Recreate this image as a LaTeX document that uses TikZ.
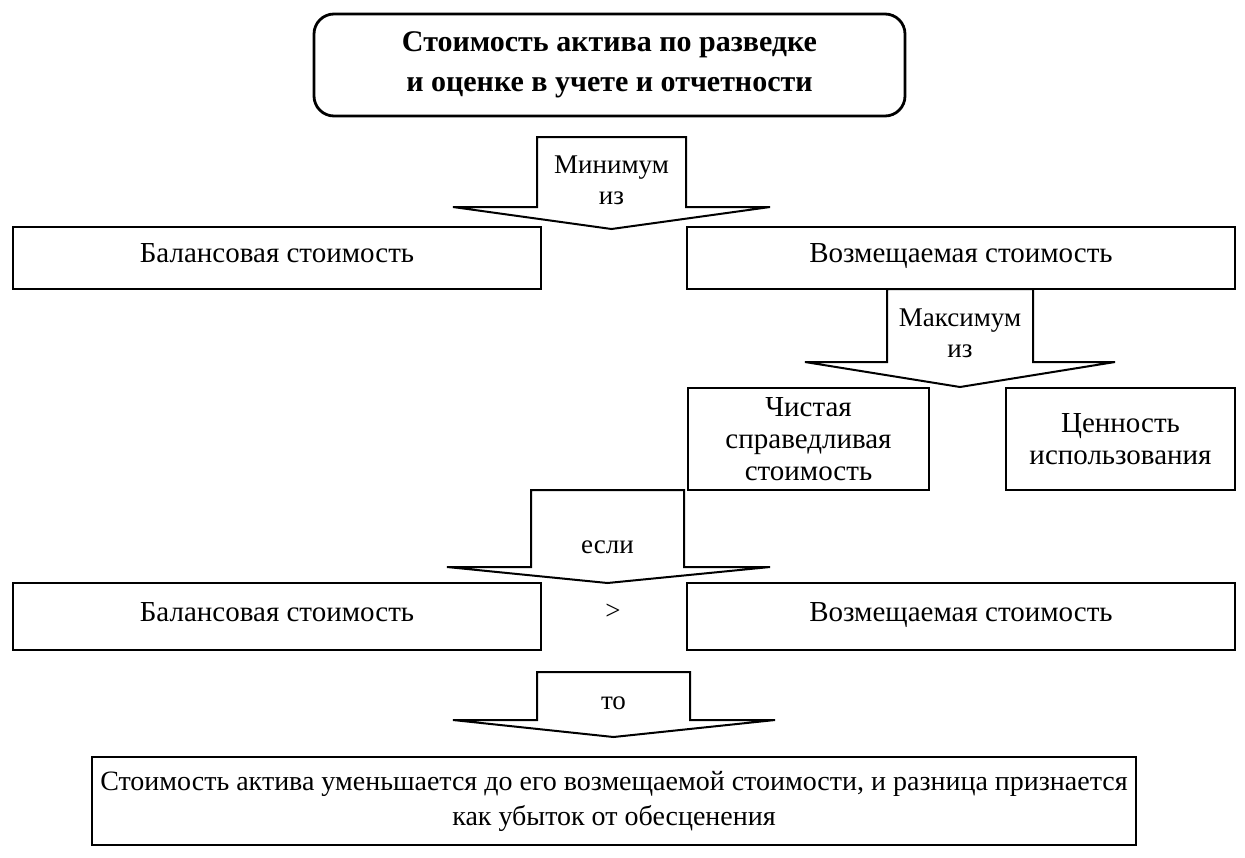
\documentclass[tikz,border=0pt]{standalone}
\usepackage{fontspec}
\setmainfont{Liberation Serif}
\usetikzlibrary{positioning}
\tikzset{
  box/.style={rectangle, draw=black, line width=1pt, align=center, inner sep=2pt, font=\fontsize{14.5}{16}\selectfont},
  onebox/.style={box, text height=0.7em, text depth=0.22em},
  title/.style={box, rounded corners=10pt, line width=1.4pt, font=\fontsize{15}{20}\selectfont\bfseries},
  bigarrow/.style={draw=black, line width=1pt, fill=white, line join=miter},
  arrowlabel/.style={align=center, inner sep=0pt, font=\fontsize{13.5}{15.5}\selectfont}
}

\begin{document}
\begin{tikzpicture}[x=0.5pt, y=-0.5pt]
    \useasboundingbox (0,0) rectangle (1245,857);

    \node (cost) [title, minimum width=295.5pt, minimum height=51pt] at (609.5,65)
    {Стоимость актива по разведке\\ и оценке в учете и отчетности};

    \node (book1) [onebox, minimum width=264pt, minimum height=31pt] at (277,258) {Балансовая стоимость};
    \node (recov1) [onebox, minimum width=274pt, minimum height=31pt] at (961,258) {Возмещаемая стоимость};

    \node (netfair) [box, minimum width=120.5pt, minimum height=51pt] at (808.5,439)
    {Чистая\\ справедливая\\ стоимость};
    \node (valuse) [box, minimum width=114.5pt, minimum height=51pt] at (1120.5,439)
    {Ценность\\ использования};

    \node (book2) [onebox, minimum width=264pt, minimum height=33.5pt] at (277,616.5) {Балансовая стоимость};
    \node (recov2) [onebox, minimum width=274pt, minimum height=33.5pt] at (961,616.5) {Возмещаемая стоимость};
    \node (gt) [arrowlabel] at (613,612) {>};

    \node (result) [box, minimum width=477pt, minimum height=44pt, inner xsep=4pt, font=\fontsize{14}{17.5}\selectfont] at (614,801)
    {Стоимость актива уменьшается до его возмещаемой стоимости, и разница признается\\ как убыток от обесценения};

    % Блочные стрелки
    \draw [bigarrow] (537,137) -- (686,137) -- (686,207) -- (770,207) -- (611.5,229)
        -- (453,207) -- (537,207) -- cycle;
    \node (minof) [arrowlabel] at (611.5,180) {Минимум\\ из};

    \draw [bigarrow] (887,289) -- (1033,289) -- (1033,362) -- (1115,362) -- (960,387)
        -- (805,362) -- (887,362) -- cycle;
    \node (maxof) [arrowlabel] at (960,333) {Максимум\\ из};

    \draw [bigarrow] (531,490) -- (684,490) -- (684,567) -- (770,567) -- (607.5,583)
        -- (447,567) -- (531,567) -- cycle;
    \node (ifnode) [arrowlabel] at (607.5,547) {если};

    \draw [bigarrow] (537,672) -- (690,672) -- (690,720) -- (775,720) -- (613.5,737)
        -- (453,720) -- (537,720) -- cycle;
    \node (then) [arrowlabel] at (613.5,703) {то};

\end{tikzpicture}
\end{document}
